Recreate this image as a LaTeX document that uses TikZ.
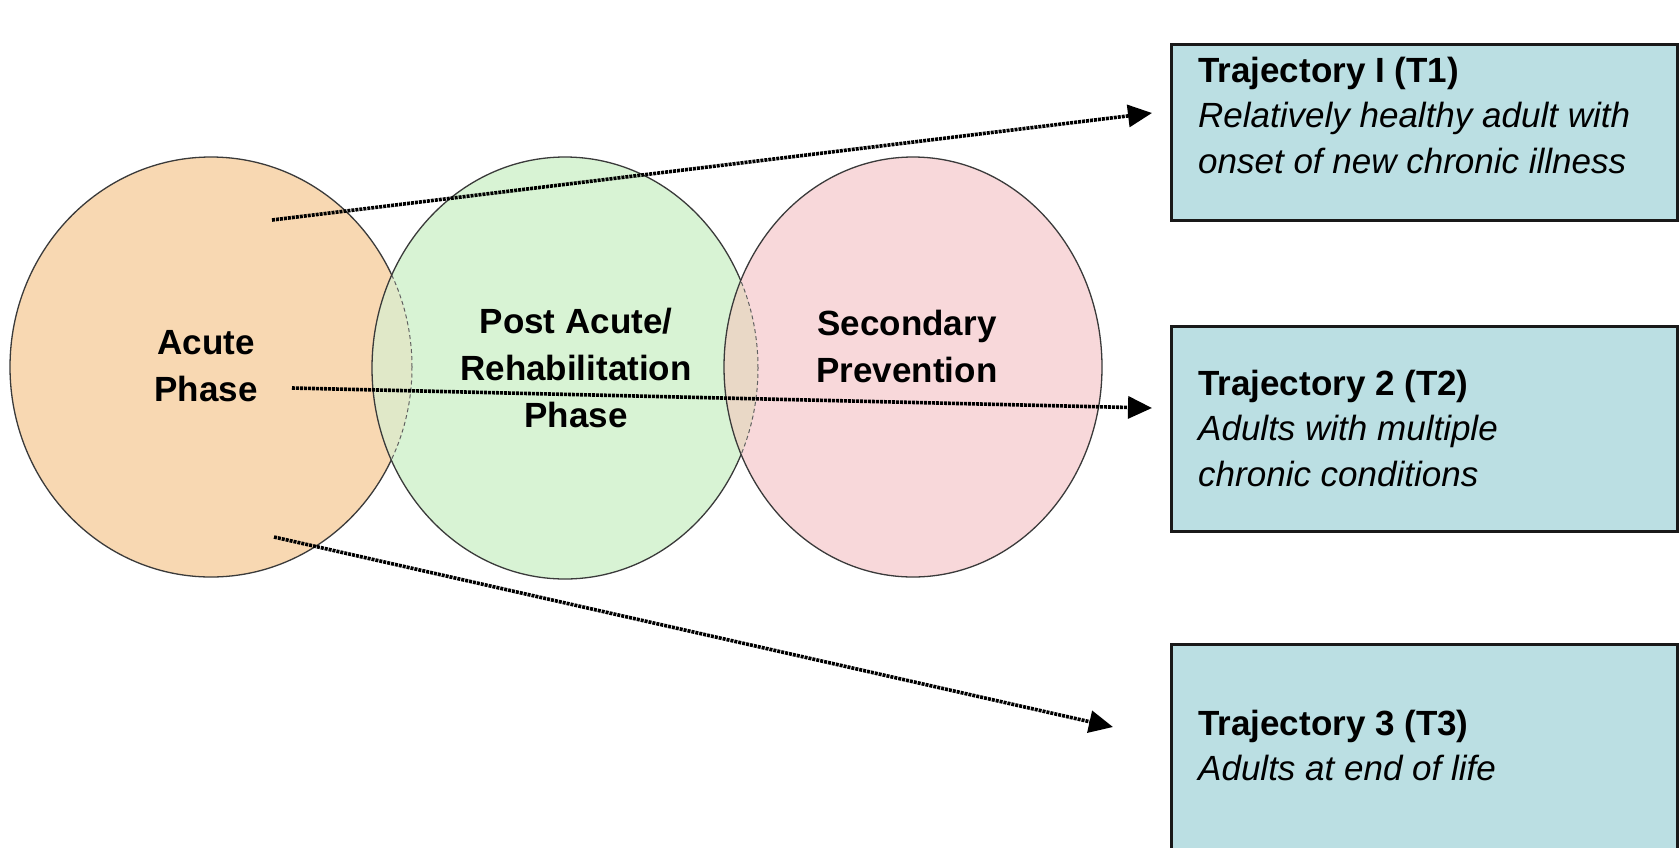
\documentclass[tikz,border=0pt]{standalone}
\usepackage{fontspec}
\setmainfont{Liberation Sans}
\usetikzlibrary{arrows.meta}
\definecolor{peach}{HTML}{F8D8B2}
\definecolor{lgreen}{HTML}{D8F3D4}
\definecolor{lpink}{HTML}{F8D8DA}
\definecolor{mixAB}{HTML}{E0E8C8}
\definecolor{mixBC}{HTML}{E9D8C6}
\definecolor{boxfill}{HTML}{BBDFE3}
\definecolor{outline}{HTML}{3A3A3A}
\tikzset{
  cline/.style={draw=outline, line width=1.3pt},
  cinner/.style={draw=outline!80, line width=1pt, dash pattern=on 4pt off 3pt},
  clabel/.style={inner sep=0pt, align=center, anchor=north,
    font=\bfseries\fontsize{35pt}{47pt}\selectfont},
  tbox/.style={draw=black!90, line width=3pt, fill=boxfill, inner sep=0pt,
    anchor=north west, minimum width=506pt},
  ttext/.style={inner sep=0pt, align=left, anchor=north west,
    font=\fontsize{35pt}{45.5pt}\selectfont},
  arr/.style={line width=3.6pt, dash pattern=on 3pt off 1pt,
    -{Triangle[length=24pt,width=22pt]}}
}
\def\cA{(211,367) ellipse [x radius=201pt, y radius=210pt]}
\def\cB{(565,368) ellipse [x radius=193pt, y radius=211pt]}
\def\cC{(913,367) ellipse [x radius=189pt, y radius=210pt]}
\begin{document}
\begin{tikzpicture}[x=1pt,y=-1pt]
\useasboundingbox (0,0) rectangle (1680,847);
\fill[white] (0,0) rectangle (1680,847);
\begin{scope}
\clip (0,0) rectangle (1680,847);
% circles
\fill[peach] \cA; \draw[cline] \cA;
\fill[lgreen] \cB;
\begin{scope}\clip \cB; \fill[mixAB] \cA; \draw[cinner] \cA; \end{scope}
\draw[cline] \cB;
\fill[lpink] \cC;
\begin{scope}\clip \cC; \fill[mixBC] \cB; \draw[cinner] \cB; \end{scope}
\draw[cline] \cC;
% labels
\node[clabel] (lA) at (206,330) {Acute\\Phase};
\node[clabel] (lB) at (576,307.5) {Post Acute/\\Rehabilitation\\Phase};
\node[clabel] (lC) at (907,309.5) {Secondary\\Prevention};
% boxes
\node[tbox, minimum height=176pt] (b1) at (1170,43) {};
\node[tbox, minimum height=205pt] (b2) at (1170,325) {};
\node[tbox, minimum height=260pt] (b3) at (1170,643) {};
\node[ttext] (t1) at (1198,56.5) {\textbf{Trajectory I (T1)}\\\textit{Relatively healthy adult with}\\\textit{onset of new chronic illness}};
\node[ttext] (t2) at (1198,369.5) {\textbf{Trajectory 2 (T2)}\\\textit{Adults with multiple}\\\textit{chronic conditions}};
\node[ttext] (t3) at (1198,709.5) {\textbf{Trajectory 3 (T3)}\\\textit{Adults at end of life}};
% arrows
\coordinate (s1) at (272,220); \coordinate (e1) at (1152,113);
\coordinate (s2) at (292,388); \coordinate (e2) at (1152,408);
\coordinate (s3) at (274,537); \coordinate (e3) at (1113,727);
\draw[arr] (s1) -- (e1);
\draw[arr] (s2) -- (e2);
\draw[arr] (s3) -- (e3);
\end{scope}
\end{tikzpicture}
\end{document}
